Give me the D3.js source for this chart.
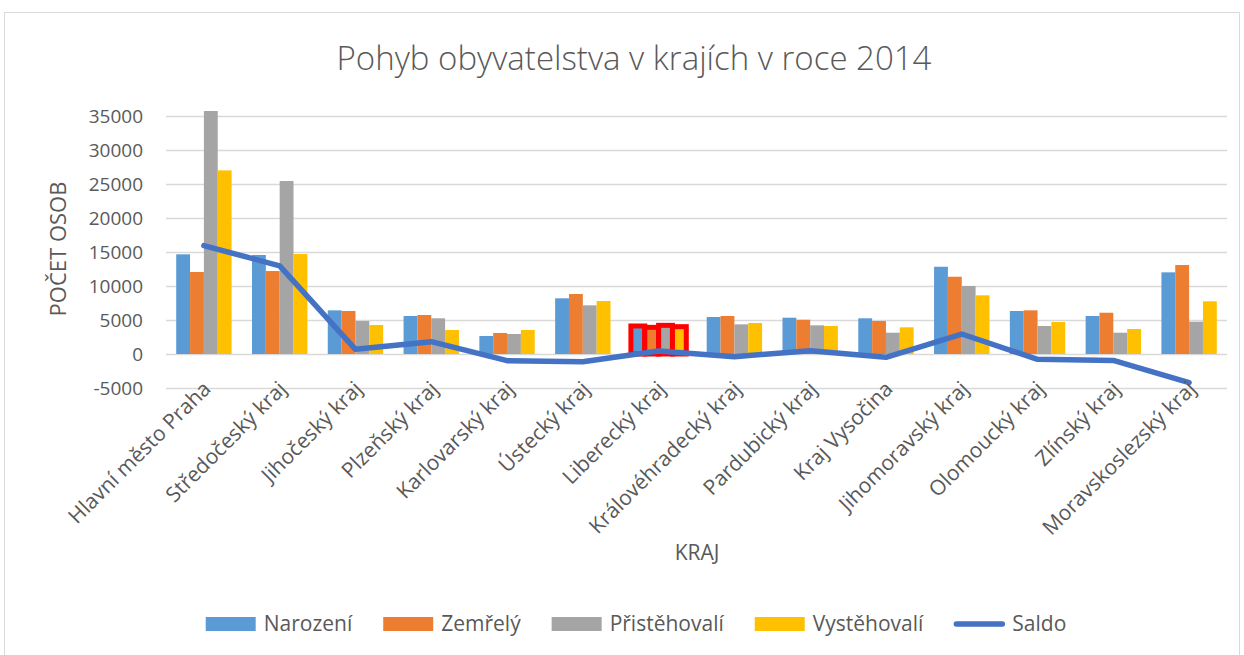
<!DOCTYPE html>
<html><head><meta charset="utf-8">
<script src="https://cdn.jsdelivr.net/npm/d3@7"></script>
<style>
html,body{margin:0;padding:0;background:#fff;}
svg{display:block;font-family:"Open Sans",sans-serif;}
</style></head>
<body>
<svg id="c" width="1244" height="655"></svg>
<script>
const categories = ["Hlavní město Praha","Středočeský kraj","Jihočeský kraj","Plzeňský kraj","Karlovarský kraj","Ústecký kraj","Liberecký kraj","Královéhradecký kraj","Pardubický kraj","Kraj Vysočina","Jihomoravský kraj","Olomoucký kraj","Zlínský kraj","Moravskoslezský kraj"];
const seriesNames = ["Narození","Zemřelý","Přistěhovalí","Vystěhovalí"];
const narozeni     = [14660,14560,6420,5590,2650,8190,4120,5440,5340,5250,12830,6320,5590,12010];
const zemrely      = [12060,12200,6320,5735,3090,8820,3920,5590,5040,4850,11360,6420,6070,13080];
const pristehovali = [35735,25440,4850,5250,2940,7160,4215,4360,4215,3130,10000,4120,3130,4750];
const vystehovali  = [27000,14700,4260,3530,3530,7790,4020,4560,4120,3920,8630,4700,3675,7750];
const saldo        = [15930,12970,690,1810,-985,-1130,440,-400,490,-485,2940,-780,-950,-4200];
const yTicks = [-5000,0,5000,10000,15000,20000,25000,30000,35000];
const highlighted = ["Liberecký kraj"];
const title = "Pohyb obyvatelstva v krajích v roce 2014";
const xTitle = "KRAJ", yTitle = "POČET OSOB", lineName = "Saldo";

const colors = ["#5b9bd5","#ed7d31","#a5a5a5","#ffc000"];
const lineColor = "#4472c4";
const textColor = "#595959";
const gridColor = "#d9d9d9";
const seriesValues = [narozeni, zemrely, pristehovali, vystehovali];

const svg = d3.select("#c");
svg.append("rect").attr("x",4.5).attr("y",12.5).attr("width",1235).attr("height",660)
  .attr("fill","#fff").attr("stroke",gridColor).attr("stroke-width",1);

const x0 = d3.scaleBand().domain(categories).range([166,1227]).paddingInner(0).paddingOuter(0);
const x1 = d3.scaleBand().domain(seriesNames).range([0,x0.bandwidth()]).paddingInner(0).paddingOuter(0.737);
const y = d3.scaleLinear().domain([-5000,35000]).range([388,116]);

// gridlines
const yAxis = d3.axisLeft(y).tickValues(yTicks).tickSize(-(1227-166)).tickFormat(d=>d);
const gy = svg.append("g").attr("transform","translate(166,0)").call(yAxis);
gy.select(".domain").remove();
gy.selectAll(".tick line").attr("stroke",gridColor).attr("stroke-width",1.3);
gy.selectAll(".tick text").attr("fill",textColor).attr("font-size",19).attr("x",-23).attr("dy","0.35em")
  .attr("font-family","Open Sans");

// bars
const gBars = svg.append("g");
categories.forEach((c,i)=>{
  seriesNames.forEach((s,j)=>{
    const v = seriesValues[j][i];
    const hl = highlighted.includes(c);
    gBars.append("rect")
      .attr("x", x0(c)+x1(s))
      .attr("width", x1.bandwidth())
      .attr("y", y(Math.max(0,v)))
      .attr("height", Math.abs(y(v)-y(0)))
      .attr("fill", colors[j])
      .attr("stroke", hl ? "#ff0000" : "none")
      .attr("stroke-width", hl ? 5 : 0);
  });
});

// saldo line
const line = d3.line().x((d,i)=>x0(categories[i])+x0.bandwidth()/2).y(d=>y(d));
svg.append("path").datum(saldo).attr("d",line).attr("fill","none")
  .attr("stroke",lineColor).attr("stroke-width",5.5).attr("stroke-linejoin","round").attr("stroke-linecap","round");

// category labels
const gx = svg.append("g");
categories.forEach(c=>{
  const cx = x0(c)+x0.bandwidth()/2;
  gx.append("text").attr("transform",`translate(${cx-3},${379}) rotate(-45)`)
    .attr("text-anchor","end").attr("dy","0.75em").attr("font-size",21).attr("fill",textColor).text(c);
});

// titles
svg.append("text").attr("x",634).attr("y",70).attr("text-anchor","middle").attr("font-size",33)
  .attr("fill",textColor).attr("font-weight",300).text(title);
svg.append("text").attr("x",697).attr("y",560).attr("text-anchor","middle").attr("font-size",21)
  .attr("fill",textColor).text(xTitle);
svg.append("text").attr("transform","translate(66,249) rotate(-90)").attr("text-anchor","middle").attr("font-size",22)
  .attr("fill",textColor).text(yTitle);

// legend
const legendItems = seriesNames.map((s,j)=>({name:s,color:colors[j],type:"rect"})).concat([{name:lineName,color:lineColor,type:"line"}]);
const gl = svg.append("g");
let lx = 0;
const ly = 624;
legendItems.forEach(it=>{
  const g = gl.append("g").attr("transform",`translate(${lx},0)`);
  if(it.type==="rect") g.append("rect").attr("x",0).attr("y",ly-7).attr("width",50).attr("height",14).attr("fill",it.color);
  else g.append("line").attr("x1",2).attr("x2",48).attr("y1",ly).attr("y2",ly).attr("stroke",it.color).attr("stroke-width",5.5).attr("stroke-linecap","round");
  const t = g.append("text").attr("x",58).attr("y",ly).attr("dy","0.35em").attr("font-size",21).attr("fill",textColor).text(it.name);
  const w = t.node().getComputedTextLength();
  lx += 58 + w + 31;
});
const totalW = lx - 31;
gl.attr("transform",`translate(${636-totalW/2},0)`);
</script>
</body></html>
